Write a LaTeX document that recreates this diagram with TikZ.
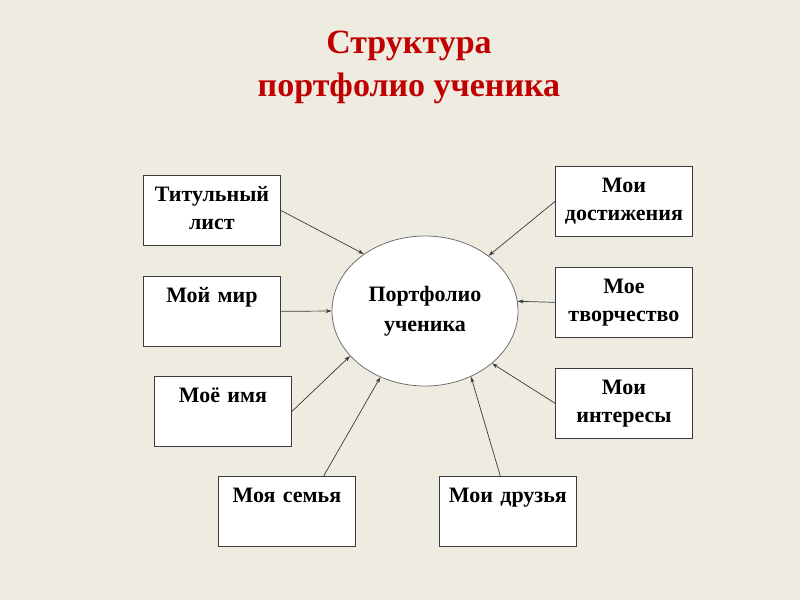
\documentclass[tikz,border=0pt]{standalone}
\usepackage{fontspec}
\setmainfont{Liberation Serif}
\usepackage{tikz}
\usetikzlibrary{arrows.meta,positioning,shapes.geometric}
\definecolor{paper}{HTML}{EEECE1}
\definecolor{headred}{HTML}{C00000}
\definecolor{ink}{HTML}{3A3A3A}
\definecolor{rim}{HTML}{6F6F6F}

\begin{document}
\begin{tikzpicture}[
  x=1pt,y=-1pt,
  node distance=30pt and 83pt,
  box/.style={draw=ink,fill=white,line width=0.9pt,anchor=north west,text width=125pt,align=center,inner xsep=6pt,inner ysep=7pt,text height=19pt,text depth=37pt,font=\bfseries\fontsize{22}{28}\selectfont},
  hub/.style={ellipse,draw=rim,fill=white,line width=0.8pt,minimum width=186pt,minimum height=150pt,inner sep=0pt,align=center,font=\bfseries\fontsize{22}{30}\selectfont},
  arr/.style={-{Stealth[length=6pt,width=4pt]},draw=ink,line width=0.7pt}
]
\fill[paper] (0,0) rectangle (800,600);
\node[align=center,text=headred,font=\bfseries\fontsize{34}{43}\selectfont] (title) at (409,67) {Структура\\портфолио ученика};
\node[hub] (core) at (425,311) {Портфолио\\ученика};
% left column
\node[box] (titul) at (143,175) {Титульный\\лист};
\node[box,below=of titul] (world) {Мой мир};
\node[box] (name) at (154,376) {Моё имя};
% bottom row
\node[box] (family) at (218,476) {Моя семья};
\node[box,right=of family] (friends) {Мои друзья};
% right column
\node[box] (achieve) at (555,166) {Мои\\достижения};
\node[box,below=of achieve] (create) {Мое\\творчество};
\node[box,below=of create] (interest) {Мои\\интересы};
\draw[arr] (titul.east)--(core.137);
\draw[arr] (world.east)--(core.west);
\draw[arr] (name.east)--(core.211);
\draw[arr] (family.44)--(core.236);
\draw[arr] (friends.102)--(core.305);
\draw[arr] (interest.west)--(core.322);
\draw[arr] (create.west)--(core.6);
\draw[arr] (achieve.west)--(core.41);
\end{tikzpicture}
\end{document}
